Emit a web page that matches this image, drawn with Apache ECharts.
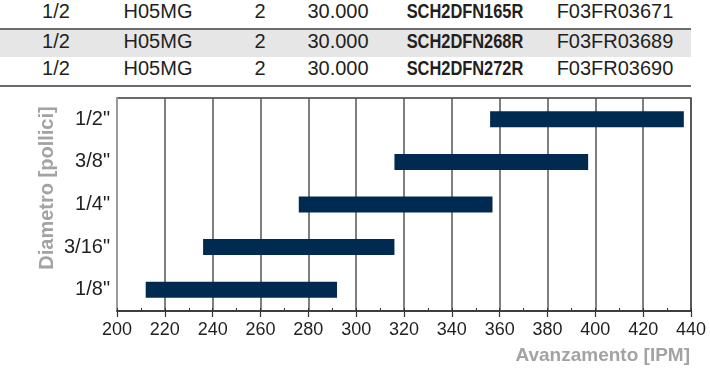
<!DOCTYPE html>
<html>
<head>
<meta charset="utf-8">
<script src="https://cdn.jsdelivr.net/npm/echarts@6/dist/echarts.min.js"></script>
<style>
body { margin: 0; background: #fff; }
#wrap { position: relative; width: 710px; height: 372px; overflow: hidden; background: #fff; }
#chart { position: absolute; left: 0; top: 0; width: 710px; height: 372px; }
.row { position: absolute; left: 0; width: 691px; }
.line { position: absolute; left: 0; width: 691px; height: 2px; background: #6b6b6b; }
.cell { position: absolute; top: 0; font: 20px 'Liberation Sans', Arial, sans-serif; color: #231f20; white-space: nowrap; transform: translateX(-50%); }
.code { font-weight: bold; transform: translateX(-50%) scaleX(0.82); }
</style>
</head>
<body>
<div id="wrap">
  <div id="table"></div>
  <div id="chart"></div>
</div>
<script>
// table rows (top of the picture)
const diamCol = ['1/2', '1/2', '1/2'];
const cableCol = ['H05MG', 'H05MG', 'H05MG'];
const qtyCol = ['2', '2', '2'];
const lengthCol = ['30.000', '30.000', '30.000'];
const codeCol = ['SCH2DFN165R', 'SCH2DFN268R', 'SCH2DFN272R'];
const refCol = ['F03FR03671', 'F03FR03689', 'F03FR03690'];

// chart data
const diameters = ['1/8"', '3/16"', '1/4"', '3/8"', '1/2"'];
const speedMin = [212, 236, 276, 316, 356];
const speedMax = [292, 316, 357, 397, 437];
const xMin = 200, xMax = 440, xStep = 20;

const rowTops = [0, 30, 57];
const rowHeights = [28, 27, 28];
const colCenters = [56, 158, 260, 338, 465, 615];

const table = document.getElementById('table');
let html = '';
for (let i = 0; i < 3; i++) {
    const bg = i === 1 ? 'background:#e6e6e6;' : '';
    html += '<div class="row" style="top:' + rowTops[i] + 'px;height:' + rowHeights[i] + 'px;line-height:' + rowHeights[i] + 'px;' + bg + '">';
    const cells = [diamCol[i], cableCol[i], qtyCol[i], lengthCol[i], codeCol[i], refCol[i]];
    cells.forEach((t, c) => {
        const cls = c === 4 ? 'cell code' : 'cell';
        html += '<span class="' + cls + '" style="left:' + colCenters[c] + 'px">' + t + '</span>';
    });
    html += '</div>';
}
html += '<div class="line" style="top:28px"></div>';
html += '<div class="line" style="top:85px"></div>';
table.innerHTML = html;

const chart = echarts.init(document.getElementById('chart'));

const gridBox = { left: 117, right: 19, top: 98, bottom: 61 };

chart.setOption({
    animation: false,
    grid: [
        Object.assign({ show: true, borderColor: '#3a3a3a', borderWidth: 1.5 }, gridBox),
        Object.assign({ show: false }, gridBox)
    ],
    xAxis: [
        {
            type: 'value',
            min: xMin,
            max: xMax,
            interval: xStep,
            axisLine: { show: true, lineStyle: { color: '#333', width: 1.5 } },
            axisTick: { show: true, length: 6, lineStyle: { color: '#333', width: 1.2 } },
            axisLabel: { fontSize: 18, fontFamily: "'Liberation Sans', sans-serif", color: '#231f20', margin: 10 },
            splitLine: { show: true, lineStyle: { color: '#555', width: 1.5 } }
        },
        {
            gridIndex: 1,
            type: 'value',
            min: xMin,
            max: xMax,
            interval: xStep / 2,
            axisLine: { show: false },
            axisTick: { show: true, inside: true, length: 3, lineStyle: { color: '#333', width: 1 } },
            axisLabel: { show: false },
            splitLine: { show: false }
        }
    ],
    yAxis: [
        {
            type: 'category',
            data: diameters,
            axisLine: { show: true, lineStyle: { color: '#9a9a9a', width: 2 } },
            axisTick: { show: false },
            axisLabel: { fontSize: 20, fontFamily: "'Liberation Sans', sans-serif", color: '#231f20', margin: 7 }
        },
        {
            gridIndex: 1,
            type: 'category',
            data: diameters,
            show: false
        }
    ],
    graphic: [
        {
            type: 'text',
            x: 47,
            y: 188,
            rotation: Math.PI / 2,
            style: {
                text: 'Diametro [pollici]',
                font: "bold 20px 'Liberation Sans', sans-serif",
                fill: '#a3a3a3',
                align: 'center',
                verticalAlign: 'middle'
            }
        },
        {
            type: 'text',
            x: 690,
            y: 356,
            style: {
                text: 'Avanzamento [IPM]',
                font: "bold 19px 'Liberation Sans', sans-serif",
                fill: '#a3a3a3',
                align: 'right',
                verticalAlign: 'middle'
            }
        }
    ],
    series: [
        {
            type: 'bar',
            stack: 'range',
            data: speedMin,
            barWidth: 16,
            silent: true,
            itemStyle: { color: 'transparent' }
        },
        {
            type: 'bar',
            stack: 'range',
            data: speedMax.map((v, i) => v - speedMin[i]),
            barWidth: 16,
            itemStyle: { color: '#002a50' }
        }
    ]
});
</script>
</body>
</html>
